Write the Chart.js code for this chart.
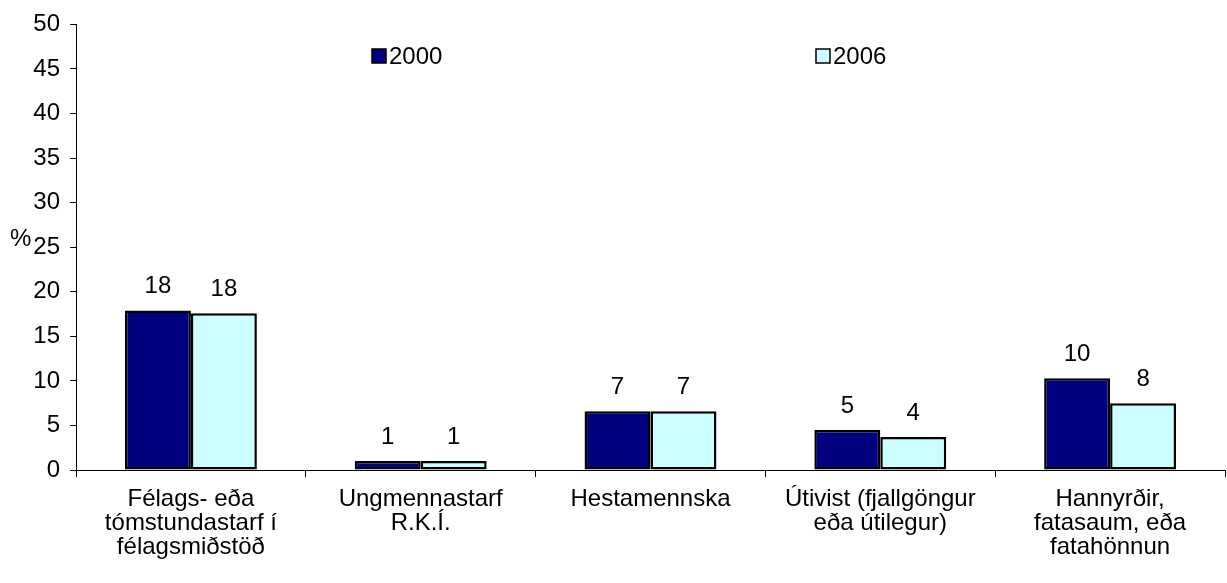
<!DOCTYPE html>
<html>
<head>
<meta charset="utf-8">
<script src="https://cdn.jsdelivr.net/npm/chart.js@4/dist/chart.umd.min.js"></script>
<style>
  html, body { margin: 0; padding: 0; background: #fff; }
  #wrap { width: 1227px; height: 583px; position: relative; }
</style>
</head>
<body>
<div id="wrap"><canvas id="chart"></canvas></div>
<script>
const categories = [
  ['Félags- eða', 'tómstundastarf í', 'félagsmiðstöð'],
  ['Ungmennastarf', 'R.K.Í.'],
  ['Hestamennska'],
  ['Útivist (fjallgöngur', 'eða útilegur)'],
  ['Hannyrðir,', 'fatasaum, eða', 'fatahönnun'],
];
const values2000 = [17.9, 1.0, 6.6, 4.5, 10.3];
const values2006 = [17.6, 1.0, 6.6, 3.7, 7.5];
const seriesNames = ['2000', '2006'];
const yTicks = [0, 5, 10, 15, 20, 25, 30, 35, 40, 45, 50];

const FONT = "'Liberation Sans', Arial, sans-serif";

// value labels above bars + the "%" title
const extras = {
  id: 'extras',
  afterDatasetsDraw(chart) {
    const ctx = chart.ctx;
    ctx.save();
    ctx.fillStyle = '#000';
    ctx.font = '24px ' + FONT;
    ctx.textAlign = 'center';
    ctx.textBaseline = 'alphabetic';
    chart.data.datasets.forEach((ds, i) => {
      chart.getDatasetMeta(i).data.forEach((bar, j) => {
        ctx.fillText(String(Math.round(ds.data[j])), bar.x, bar.y - 17);
      });
    });
    const y = chart.scales.y;
    ctx.textAlign = 'left';
    ctx.textBaseline = 'middle';
    ctx.fillText('%', 10, y.getPixelForValue(25) - 8);
    ctx.restore();
  },
};

// legend drawn inside plot area, like the original
const legendBoxes = {
  id: 'legendBoxes',
  afterDraw(chart) {
    const ctx = chart.ctx;
    const xs = [372, 816];
    ctx.save();
    ctx.font = '24px ' + FONT;
    ctx.textBaseline = 'middle';
    ctx.textAlign = 'left';
    chart.data.datasets.forEach((ds, i) => {
      const x = xs[i];
      const y = 56;
      ctx.fillStyle = ds.backgroundColor;
      ctx.fillRect(x, y - 7, 14, 14);
      ctx.strokeStyle = '#000';
      ctx.lineWidth = 1.5;
      ctx.strokeRect(x, y - 7, 14, 14);
      ctx.fillStyle = '#000';
      ctx.fillText(ds.label, x + 17, y + 1);
    });
    ctx.restore();
  },
};

new Chart(document.getElementById('chart'), {
  type: 'bar',
  data: {
    labels: categories,
    datasets: [
      {
        label: seriesNames[0],
        data: values2000,
        backgroundColor: '#000080',
        borderColor: '#000',
        borderWidth: 2.5,
        borderSkipped: false,
        categoryPercentage: 0.574,
        barPercentage: 1.0,
      },
      {
        label: seriesNames[1],
        data: values2006,
        backgroundColor: '#ccffff',
        borderColor: '#000',
        borderWidth: 2.5,
        borderSkipped: false,
        categoryPercentage: 0.574,
        barPercentage: 1.0,
      },
    ],
  },
  options: {
    responsive: true,
    maintainAspectRatio: false,
    animation: false,
    layout: { padding: { top: 15, right: 2, left: 0, bottom: 0 } },
    plugins: {
      legend: { display: false },
      tooltip: { enabled: false },
    },
    scales: {
      x: {
        grid: { drawOnChartArea: false, drawTicks: true, tickLength: 7, color: '#000', offset: true },
        border: { display: true, color: '#000', width: 1 },
        ticks: {
          color: '#000',
          font: { family: FONT, size: 24, lineHeight: 1.0 },
          padding: 10,
          maxRotation: 0,
          autoSkip: false,
        },
        afterFit(s) { s.height = 113; },
      },
      y: {
        min: 0,
        max: 50,
        afterBuildTicks(s) { s.ticks = yTicks.map((v) => ({ value: v })); },
        grid: { drawOnChartArea: false, drawTicks: true, tickLength: 6, color: '#000' },
        border: { display: true, color: '#000', width: 1 },
        ticks: {
          color: '#000',
          font: { family: FONT, size: 24 },
          padding: 10,
        },
        afterFit(s) { s.width = 76; },
      },
    },
  },
  plugins: [extras, legendBoxes],
});
</script>
</body>
</html>
